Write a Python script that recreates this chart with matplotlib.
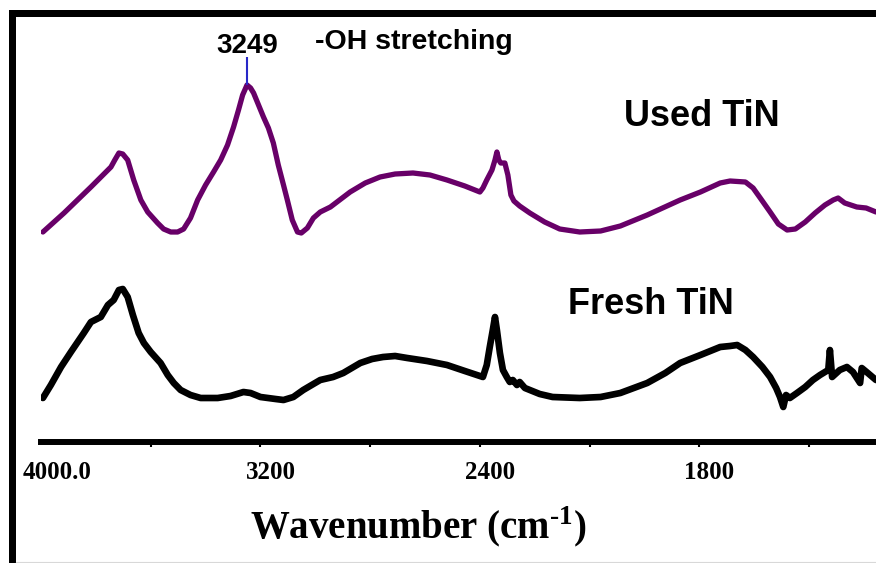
"""FTIR spectra of fresh and used TiN with a split wavenumber axis."""

import numpy as np
import matplotlib
matplotlib.use("Agg")
import matplotlib.pyplot as plt
from matplotlib.patches import Rectangle
from matplotlib.lines import Line2D
from matplotlib.transforms import offset_copy

# Used TiN spectrum (wavenumber in cm-1, transmittance in arbitrary units)
used_wn = [3993, 3916, 3818, 3745, 3731, 3716, 3702, 3684, 3662, 3636,
           3611, 3575, 3553, 3527, 3502, 3480, 3455, 3429, 3400, 3371,
           3345, 3320, 3298, 3280, 3265, 3249, 3236, 3225, 3207, 3189,
           3171, 3153, 3135, 3116, 3102, 3084, 3065, 3051, 3029, 3007,
           2982, 2945, 2873, 2818, 2764, 2709, 2644, 2582, 2520, 2455,
           2400, 2389, 2375, 2356, 2345, 2338, 2331, 2324, 2309, 2298,
           2287, 2276, 2255, 2218, 2164, 2109, 2036, 1980, 1944, 1895,
           1835, 1798, 1762, 1744, 1716, 1702, 1689, 1671, 1656, 1640,
           1625, 1607, 1589, 1571, 1556, 1547, 1535, 1513, 1496, 1478]
used_t = [52.0, 56.75, 63.25, 68.25, 70.0, 71.75, 71.5, 70.0, 65.0, 60.0,
          57.0, 54.25, 52.75, 52.0, 52.0, 52.75, 55.5, 60.0, 63.75, 67.0,
          70.0, 73.75, 78.25, 82.5, 86.25, 88.75, 88.0, 86.75, 83.75, 80.75,
          78.0, 74.25, 68.75, 63.75, 60.0, 55.0, 52.0, 51.75, 53.0, 55.5,
          57.0, 58.25, 62.0, 64.25, 65.75, 66.5, 66.75, 66.25, 65.0, 63.5,
          62.0, 63.0, 65.0, 67.5, 70.0, 72.0, 70.0, 69.25, 69.25, 66.25,
          61.25, 59.75, 58.5, 56.75, 54.5, 52.75, 52.0, 52.25, 53.5, 56.25,
          60.0, 62.0, 64.25, 64.75, 64.5, 63.0, 60.5, 57.0, 54.0, 52.5,
          52.75, 54.5, 56.75, 58.75, 60.0, 60.5, 59.25, 58.25, 58.0, 57.0]

# Fresh TiN spectrum
fresh_wn = [3993, 3964, 3927, 3891, 3844, 3818, 3782, 3756, 3735, 3716,
            3702, 3684, 3665, 3644, 3625, 3600, 3564, 3538, 3516, 3491,
            3455, 3418, 3356, 3309, 3262, 3236, 3200, 3145, 3116, 3080,
            3044, 3007, 2982, 2935, 2898, 2836, 2793, 2753, 2709, 2665,
            2593, 2520, 2455, 2389, 2375, 2364, 2353, 2345, 2338, 2327,
            2316, 2302, 2291, 2280, 2265, 2255, 2236, 2218, 2182, 2135,
            2036, 1980, 1944, 1895, 1862, 1835, 1798, 1762, 1744, 1731,
            1716, 1702, 1685, 1671, 1660, 1653, 1647, 1642, 1635, 1622,
            1607, 1593, 1580, 1565, 1562, 1558, 1544, 1531, 1520, 1507,
            1504, 1493, 1478]
fresh_t = [10.5, 13.75, 18.25, 22.0, 26.75, 29.5, 30.75, 33.75, 35.0, 37.5,
           37.75, 35.75, 31.25, 26.75, 24.25, 22.0, 19.25, 16.25, 14.25, 12.5,
           11.25, 10.5, 10.5, 11.0, 12.0, 11.75, 10.75, 10.25, 10.0, 10.75,
           12.5, 14.0, 15.0, 15.75, 16.75, 19.25, 20.25, 20.75, 21.0, 20.5,
           19.75, 18.75, 17.25, 15.75, 18.75, 23.25, 27.5, 30.75, 27.5, 21.75,
           17.5, 15.75, 14.5, 15.0, 13.75, 14.5, 13.0, 12.5, 11.5, 10.75,
           10.5, 10.75, 11.75, 14.25, 16.75, 19.25, 21.25, 23.25, 23.5, 23.75,
           22.5, 20.75, 18.25, 15.75, 13.0, 10.75, 8.25, 11.25, 10.5, 11.75,
           13.25, 15.0, 16.25, 17.5, 22.5, 15.75, 17.5, 18.25, 17.0, 14.25,
           18.0, 16.75, 15.0]

peak_wn = 3249
tick_marks = [3600, 3200, 2800, 2400, 2000, 1800, 1600]
tick_labels = {4000: "4000.0", 3200: "3200", 2400: "2400", 1800: "1800"}

W, H = 876, 563
SANS = "Liberation Sans"
SERIF = "Liberation Serif"


def _fwd(w):
    # double scale below 2000 cm-1, as on the spectrometer printout
    w = np.asarray(w, dtype=float)
    return np.where(w >= 2000, (w - 2000) / 400.0, (w - 2000) / 200.0)


def _inv(p):
    p = np.asarray(p, dtype=float)
    return np.where(p >= 0, 2000 + 400.0 * p, 2000 + 200.0 * p)


plt.rcParams["mathtext.fontset"] = "custom"
plt.rcParams["mathtext.rm"] = SERIF + ":bold"
plt.rcParams["mathtext.bf"] = SERIF + ":bold"

fig = plt.figure(figsize=(W / 100, H / 100), dpi=100)
fig.patch.set_facecolor("white")

ax_bottom = (H - 442) / H
ax_top = 1 - 17 / H
ax = fig.add_axes([41 / W, ax_bottom, 1 - 41 / W, ax_top - ax_bottom])
ax.set_xscale("function", functions=(_fwd, _inv))

ax.plot(used_wn, used_t, color="#680068", linewidth=3.8,
        solid_joinstyle="round", solid_capstyle="round")
ax.plot(fresh_wn, fresh_t, color="black", linewidth=4.8,
        solid_joinstyle="round", solid_capstyle="round")

ax.set_xlim(4000, 1478)
ax.set_ylim(-0.5, 105.75)

for side in ("left", "right", "top"):
    ax.spines[side].set_visible(False)
ax.spines["bottom"].set_linewidth(4.3)
ax.set_yticks([])
ax.set_xticks(tick_marks)
ax.set_xticklabels([])
ax.tick_params(axis="x", direction="out", length=3.5, width=1.5, color="black")

# tick labels sit a little to the right of their ticks
for wn, lab in tick_labels.items():
    dx = 16 if wn == 4000 else 10
    tr = offset_copy(ax.get_xaxis_transform(), fig=fig, x=dx, y=0, units="dots")
    ax.text(wn, -0.072, lab, transform=tr, ha="center", va="center",
            fontsize=18, fontweight="bold", family=SERIF)

# peak marker
ax.vlines(peak_wn, used_t[used_wn.index(peak_wn)], 95.75, color="#2828c8",
          linewidth=1.5)
ax.text(peak_wn, 98.5, str(peak_wn), ha="center", va="center",
        fontsize=20, fontweight="bold", family=SANS)
ax.text(3000, 99.5, "-OH stretching", ha="left", va="center",
        fontsize=20.5, fontweight="bold", family=SANS)
ax.text(1938, 81.0, "Used TiN", ha="left", va="center",
        fontsize=26, fontweight="bold", family=SANS)
ax.text(2080, 34.0, "Fresh TiN", ha="left", va="center",
        fontsize=26, fontweight="bold", family=SANS)

fig.text(418 / W, 1 - 527 / H, r"Wavenumber (cm$^{\text{-1}}$)",
         ha="center", va="center", fontsize=28, fontweight="bold", family=SERIF)

# thick border on the left and top
fig.add_artist(Rectangle((9 / W, 0), 7 / W, (H - 10) / H,
                         transform=fig.transFigure, color="black", lw=0))
fig.add_artist(Rectangle((9 / W, 1 - 17 / H), (W - 9) / W, 7 / H,
                         transform=fig.transFigure, color="black", lw=0))
fig.add_artist(Line2D([16 / W, 1], [1.5 / H, 1.5 / H],
                      transform=fig.transFigure, color="#d8d8d8", lw=0.8))

fig.savefig("out.png", dpi=100)
